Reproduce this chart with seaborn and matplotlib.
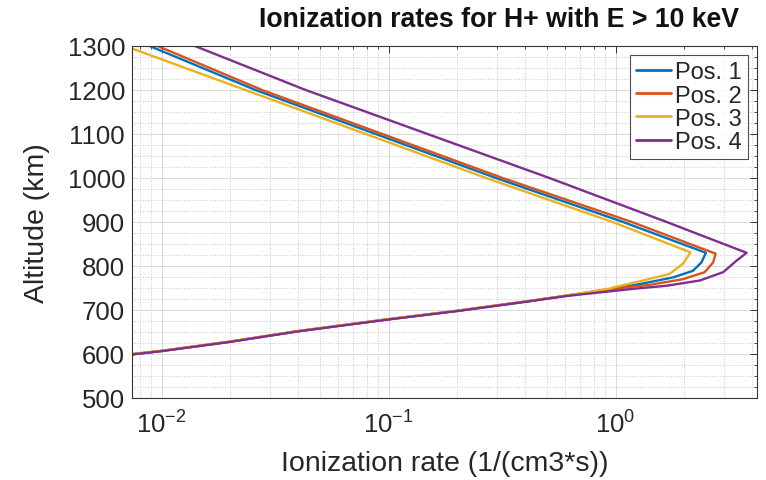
import numpy as np
import pandas as pd
import matplotlib
matplotlib.use("Agg")
import matplotlib.pyplot as plt
from matplotlib.ticker import LogLocator, MultipleLocator, NullFormatter
import seaborn as sns

# Data (altitude in km, ionization rate in 1/(cm3*s))
alt1 = [1300, 1200, 1000, 900, 830, 808, 789, 774, 759, 749, 732, 719, 698, 679, 652, 628, 607, 598]
pos1 = [0.00885, 0.0259, 0.297, 1.08, 2.50, 2.39, 2.19, 1.79, 1.28, 1.00, 0.60, 0.40, 0.20, 0.10, 0.040, 0.020, 0.0100, 0.0070]
alt2 = [1300, 1200, 1000, 900, 828, 808, 786, 770, 757, 749, 732, 719, 698, 679, 652, 628, 607, 598]
pos2 = [0.0096, 0.0277, 0.318, 1.18, 2.76, 2.69, 2.47, 1.98, 1.41, 1.00, 0.60, 0.40, 0.20, 0.10, 0.040, 0.020, 0.0100, 0.0070]
alt3 = [1300, 1200, 1000, 900, 831, 805, 782, 767, 752, 749, 732.5, 719.5, 698.5, 679.5, 652.5, 628.5, 607.5, 598.5]
pos3 = [0.0069, 0.0234, 0.269, 0.97, 2.14, 1.98, 1.73, 1.32, 0.99, 0.95, 0.60, 0.40, 0.20, 0.10, 0.040, 0.020, 0.0100, 0.0070]
alt4 = [1300, 1200, 1000, 900, 830, 812, 786, 767, 755, 748, 731.5, 718.5, 697.5, 678.5, 651.5, 627.5, 606.5, 597.5]
pos4 = [0.0140, 0.0431, 0.511, 1.68, 3.78, 3.41, 2.98, 2.35, 1.67, 1.19, 0.60, 0.40, 0.20, 0.10, 0.040, 0.020, 0.0100, 0.0070]
series_names = ["Pos. 1", "Pos. 2", "Pos. 3", "Pos. 4"]
colors = ["#0072BD", "#D95319", "#EDB120", "#7E2F8E"]
title = "Ionization rates for H+ with E > 10 keV"
xlabel = "Ionization rate (1/(cm3*s))"
ylabel = "Altitude (km)"

frames = []
for name, alts, vals in zip(series_names, [alt1, alt2, alt3, alt4], [pos1, pos2, pos3, pos4]):
    frames.append(pd.DataFrame({"alt": alts, "rate": vals, "pos": name}))
df = pd.concat(frames, ignore_index=True)

sns.set_style("white")
plt.rcParams["font.family"] = ["Liberation Sans", "DejaVu Sans"]
plt.rcParams["mathtext.fontset"] = "custom"
plt.rcParams["mathtext.rm"] = "Liberation Sans"
plt.rcParams["mathtext.it"] = "Liberation Sans"

fig = plt.figure(figsize=(7.66, 4.81), dpi=100)
ax = fig.add_axes([132/766, 1 - 399/481, (757-132)/766, (399-47)/481])

sns.lineplot(data=df, x="rate", y="alt", hue="pos", sort=False, estimator=None,
             palette=colors, linewidth=1.7, ax=ax, legend=False)

ax.set_xscale("log")
ax.set_xlim(0.0074, 4.2)
ax.set_ylim(500, 1300)
ax.yaxis.set_major_locator(MultipleLocator(100))
ax.yaxis.set_minor_locator(MultipleLocator(25))
ax.xaxis.set_major_locator(LogLocator(base=10, numticks=10))
ax.xaxis.set_minor_locator(LogLocator(base=10, subs=np.arange(2, 10), numticks=20))
ax.xaxis.set_minor_formatter(NullFormatter())

ax.grid(True, which="major", color="#d9d9d9", linewidth=0.7, linestyle="-")
ax.grid(True, which="minor", color="#c8c8c8", linewidth=0.7, linestyle=":")
ax.set_axisbelow(True)

ax.tick_params(which="both", direction="in", top=True, right=True, colors="#333333",
               labelcolor="#262626")
ax.tick_params(which="major", length=5, width=0.7, labelsize=18.5)
ax.tick_params(axis="y", which="major", pad=5)
ax.tick_params(axis="x", which="major", pad=9)
ax.tick_params(which="minor", length=2.5, width=0.6)
for s in ax.spines.values():
    s.set_color("#333333")
    s.set_linewidth(0.8)

ax.set_xlabel(xlabel, fontsize=20.5, color="#262626", labelpad=9)
ax.set_ylabel(ylabel, fontsize=20.5, color="#262626", labelpad=13)
fig.text(499/766, 1 - 20/481, title, ha="center", va="center", fontsize=19.2,
         fontweight="bold", color="#111111")

handles = [plt.Line2D([], [], color=c, linewidth=2.0) for c in colors]
leg = ax.legend(handles, series_names, loc="upper right", fontsize=17,
                handlelength=1.5, handletextpad=0.15, labelspacing=0.05,
                borderpad=0.25, borderaxespad=0.4, frameon=True, fancybox=False)
leg.get_frame().set_edgecolor("#222222")
leg.get_frame().set_linewidth(0.8)

fig.savefig("out.png", dpi=100)
